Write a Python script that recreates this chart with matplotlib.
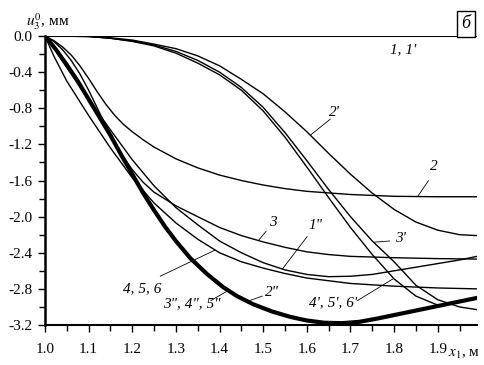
import numpy as np
import matplotlib
matplotlib.use("Agg")
import matplotlib.pyplot as plt
from matplotlib.ticker import MultipleLocator, FormatStrFormatter

plt.rcParams['font.family'] = ['Liberation Serif', 'DejaVu Serif']
plt.rcParams['mathtext.fontset'] = 'stix'

# Curve 1, 1' (zero)
x_1 = [1.0, 1.99]
u_1 = [0.0, 0.0]

# Curve 2
x_2 = [1.0, 1.02, 1.04, 1.06, 1.08, 1.1, 1.12, 1.14, 1.16, 1.18, 1.2, 1.225, 1.25, 1.3,
       1.35, 1.4, 1.45, 1.5, 1.55, 1.6, 1.7, 1.8, 1.9, 1.99]
u_2 = [0.0, -0.05, -0.12, -0.21, -0.33, -0.47, -0.62, -0.76, -0.88, -0.98, -1.06, -1.15, -1.23, -1.36,
       -1.46, -1.54, -1.6, -1.65, -1.69, -1.72, -1.755, -1.775, -1.78, -1.78]

# Curve 3
x_3 = [1.0, 1.02, 1.04, 1.06, 1.08, 1.1, 1.12, 1.14, 1.16, 1.18, 1.2, 1.225, 1.25, 1.3, 1.333,
       1.4, 1.45, 1.5, 1.55, 1.6, 1.65, 1.7, 1.8, 1.9, 1.99]
u_3 = [0.0, -0.06, -0.15, -0.27, -0.42, -0.6, -0.8, -1.0, -1.18, -1.34, -1.48, -1.62, -1.73, -1.88, -1.96,
       -2.12, -2.21, -2.28, -2.34, -2.39, -2.42, -2.44, -2.455, -2.465, -2.47]

# Curve 1''
x_1pp = [1.0, 1.02, 1.05, 1.1, 1.15, 1.2, 1.25, 1.3, 1.35, 1.4, 1.45, 1.5, 1.55, 1.6, 1.65,
         1.7, 1.75, 1.8, 1.85, 1.9, 1.95, 1.99]
u_1pp = [0.0, -0.13, -0.35, -0.7, -1.04, -1.37, -1.66, -1.9, -2.09, -2.27, -2.4, -2.51, -2.59, -2.64, -2.665,
         -2.66, -2.64, -2.6, -2.56, -2.52, -2.48, -2.44]

# Curves 4, 5, 6
x_456 = [1.0, 1.02, 1.05, 1.1, 1.15, 1.2, 1.25, 1.3, 1.35, 1.4, 1.45, 1.5, 1.55, 1.6, 1.7,
         1.8, 1.9, 1.99]
u_456 = [0.0, -0.22, -0.5, -0.88, -1.24, -1.57, -1.85, -2.07, -2.25, -2.4, -2.5, -2.57, -2.63, -2.68, -2.74,
         -2.77, -2.79, -2.8]

# Curves 2'', 3'', 4'', 5''
x_2pp = [1.0, 1.025, 1.05, 1.075, 1.1, 1.125, 1.15, 1.175, 1.2, 1.225, 1.25, 1.275, 1.3, 1.333,
         1.37, 1.408, 1.44, 1.477, 1.52, 1.562, 1.6, 1.64, 1.68, 1.72, 1.76, 1.8, 1.85, 1.9, 1.95, 1.99]
u_2pp = [0.0, -0.15, -0.32, -0.5, -0.7, -0.9, -1.1, -1.32, -1.53, -1.74, -1.93, -2.11, -2.27, -2.46,
         -2.63, -2.78, -2.88, -2.97, -3.05, -3.11, -3.15, -3.175, -3.18, -3.165, -3.13, -3.09, -3.04, -2.99, -2.94, -2.9]

# Curve 2'
x_2p = [1.0, 1.1, 1.15, 1.2, 1.25, 1.3, 1.35, 1.4, 1.45, 1.5, 1.55, 1.6, 1.65, 1.7, 1.75,
        1.8, 1.85, 1.9, 1.95, 1.99]
u_2p = [0.0, -0.005, -0.02, -0.045, -0.09, -0.14, -0.22, -0.33, -0.48, -0.64, -0.84, -1.06, -1.3, -1.53, -1.74,
        -1.92, -2.06, -2.15, -2.2, -2.21]

# Curve 3'
x_3p = [1.0, 1.1, 1.15, 1.2, 1.25, 1.3, 1.35, 1.4, 1.45, 1.5, 1.55, 1.6, 1.65, 1.7, 1.75,
        1.8, 1.85, 1.9, 1.95, 1.99]
u_3p = [0.0, -0.005, -0.025, -0.055, -0.1, -0.17, -0.27, -0.4, -0.57, -0.79, -1.07, -1.38, -1.7, -2.0, -2.27,
        -2.5, -2.76, -2.92, -3.0, -3.03]

# Curves 4', 5', 6'
x_4p = [1.0, 1.1, 1.15, 1.2, 1.25, 1.3, 1.35, 1.4, 1.45, 1.5, 1.55, 1.6, 1.65, 1.7, 1.75,
        1.8, 1.85, 1.9, 1.95, 1.99]
u_4p = [0.0, -0.005, -0.025, -0.06, -0.11, -0.19, -0.3, -0.43, -0.6, -0.83, -1.12, -1.45, -1.79, -2.12, -2.42,
        -2.69, -2.88, -2.98, -2.95, -2.9]

fig = plt.figure(figsize=(4.84, 3.65), dpi=100)
ax = fig.add_axes([45/484, 1-325/365, 432/484, 289/365])

thin = dict(color='black', lw=1.0)
ax.plot(x_1, u_1, color='black', lw=1.5)
ax.plot(x_2, u_2, **thin)
ax.plot(x_3, u_3, **thin)
ax.plot(x_1pp, u_1pp, **thin)
ax.plot(x_456, u_456, **thin)
ax.plot(x_2p, u_2p, **thin)
ax.plot(x_3p, u_3p, **thin)
ax.plot(x_4p, u_4p, **thin)
ax.plot(x_2pp, u_2pp, color='black', lw=3.0)

ax.set_xlim(1.0, 1.99)
ax.set_ylim(-3.2, 0.0)
ax.xaxis.set_major_locator(MultipleLocator(0.1))
ax.xaxis.set_minor_locator(MultipleLocator(0.05))
ax.yaxis.set_major_locator(MultipleLocator(0.4))
ax.yaxis.set_minor_locator(MultipleLocator(0.2))
ax.xaxis.set_major_formatter(FormatStrFormatter('%.1f'))
ax.yaxis.set_major_formatter(FormatStrFormatter('%.1f'))
ax.tick_params(which='both', direction='out', labelsize=11, width=1.0)
ax.tick_params(which='major', length=5)
ax.tick_params(which='minor', length=4)
ax.tick_params(axis='x', pad=8)
ax.tick_params(axis='y', pad=4)
ax.spines['right'].set_visible(False)
ax.spines['top'].set_visible(False)
ax.spines['left'].set_linewidth(1.8)
ax.spines['bottom'].set_linewidth(1.5)

fig.text(26/484, 1-26/365, r"$u_3^0$, мм", fontsize=11, ha='left', va='baseline')
fig.text(448/484, 1-357/365, r"$x_1$, м", fontsize=11, ha='left', va='baseline')
fig.text(466/484, 1-24/365, "б", fontsize=13, style='italic', ha='center', va='center',
         bbox=dict(boxstyle='square,pad=0.25', fc='white', ec='black', lw=1.0))

lab = dict(fontsize=11, style='italic', ha='center', va='center')
arr = dict(arrowstyle='-', color='black', lw=0.6, shrinkA=0, shrinkB=0)

def note(text, tx, ty, sx, sy, cx, xs, us):
    ax.text(tx, ty, text, **lab)
    ax.annotate('', xy=(cx, np.interp(cx, xs, us)), xytext=(sx, sy), arrowprops=arr)

ax.text(1.82, -0.155, "1, 1'", **lab)
note("2'", 1.664, -0.85, 1.654, -0.92, 1.608, x_2p, u_2p)
note("2", 1.891, -1.45, 1.879, -1.6, 1.854, x_2, u_2)
note("3", 1.523, -2.07, 1.507, -2.16, 1.489, x_3, u_3)
note('1"', 1.62, -2.1, 1.601, -2.22, 1.544, x_1pp, u_1pp)
note("3'", 1.815, -2.24, 1.79, -2.27, 1.753, x_3p, u_3p)
note("4, 5, 6", 1.223, -2.8, 1.264, -2.66, 1.39, x_456, u_456)
note('2"', 1.521, -2.84, 1.498, -2.88, 1.464, x_2pp, u_2pp)
note('3", 4", 5"', 1.336, -2.96, 1.38, -2.93, 1.42, x_2pp, u_2pp)
note("4', 5', 6'", 1.659, -2.95, 1.716, -2.93, 1.799, x_4p, u_4p)

fig.savefig("out.png", dpi=100)
